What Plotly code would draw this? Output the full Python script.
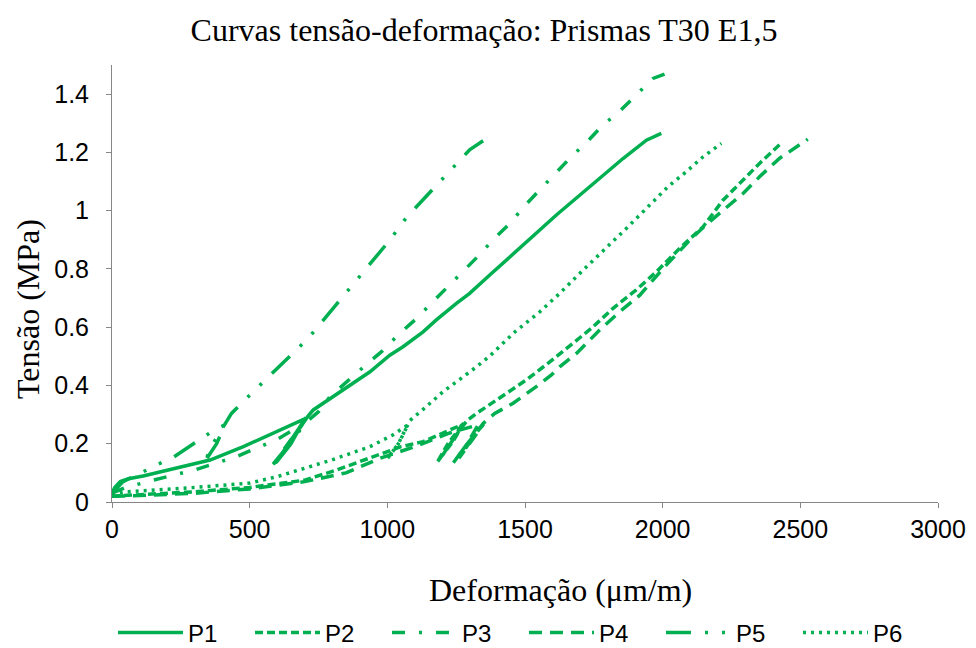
import plotly.graph_objects as go

GREEN = "#00B050"

# Deformação (µm/m) and Tensão (MPa)
p1_x = [0, 10, 30, 60, 113, 235, 356, 477, 560, 634, 700, 650, 600, 585, 620, 670, 705, 640, 595, 650, 700, 660, 610, 600, 680, 712, 731, 828, 937, 1009, 1057, 1130, 1178, 1251, 1299, 1372, 1439, 1493, 1614, 1735, 1856, 1941, 1995]
p1_y = [0.03, 0.05, 0.07, 0.08, 0.089, 0.116, 0.144, 0.19, 0.225, 0.258, 0.285, 0.2, 0.14, 0.13, 0.17, 0.24, 0.29, 0.19, 0.135, 0.21, 0.28, 0.22, 0.15, 0.14, 0.25, 0.295, 0.316, 0.379, 0.447, 0.504, 0.533, 0.584, 0.625, 0.682, 0.716, 0.779, 0.836, 0.882, 0.985, 1.082, 1.179, 1.242, 1.265]

p2_x = [0, 100, 300, 500, 700, 816, 937, 1050, 1130, 1200, 1270, 1230, 1190, 1180, 1220, 1280, 1240, 1200, 1250, 1290, 1324, 1414, 1505, 1590, 1675, 1741, 1820, 1904, 1977, 2062, 2147, 2219, 2292, 2358, 2430]
p2_y = [0.02, 0.025, 0.035, 0.05, 0.075, 0.11, 0.15, 0.19, 0.207, 0.237, 0.265, 0.2, 0.15, 0.135, 0.2, 0.275, 0.21, 0.16, 0.23, 0.28, 0.304, 0.361, 0.419, 0.481, 0.545, 0.596, 0.665, 0.728, 0.79, 0.871, 0.945, 1.036, 1.105, 1.168, 1.231]

p3_x = [0, 50, 150, 300, 450, 600, 690, 640, 600, 590, 640, 700, 750, 791, 852, 918, 979, 1039, 1100, 1157, 1215, 1273, 1330, 1387, 1445, 1499, 1554, 1612, 1668, 1729, 1783, 1838, 1886, 1965, 2013]
p3_y = [0.03, 0.05, 0.075, 0.11, 0.155, 0.215, 0.265, 0.2, 0.15, 0.13, 0.19, 0.27, 0.31, 0.361, 0.413, 0.467, 0.516, 0.573, 0.625, 0.679, 0.733, 0.79, 0.844, 0.903, 0.956, 1.017, 1.071, 1.131, 1.185, 1.24, 1.294, 1.336, 1.38, 1.454, 1.471]

p4_x = [0, 100, 300, 500, 700, 850, 973, 1100, 1227, 1330, 1290, 1250, 1240, 1290, 1350, 1300, 1260, 1310, 1348, 1390, 1457, 1548, 1596, 1626, 1687, 1771, 1844, 1917, 2000, 2100, 2150, 2213, 2292, 2358, 2425, 2527]
p4_y = [0.02, 0.022, 0.03, 0.045, 0.07, 0.1, 0.15, 0.19, 0.237, 0.265, 0.2, 0.15, 0.135, 0.2, 0.268, 0.2, 0.15, 0.22, 0.27, 0.304, 0.339, 0.401, 0.436, 0.464, 0.51, 0.59, 0.653, 0.71, 0.8, 0.9, 0.945, 0.996, 1.059, 1.122, 1.18, 1.245]

p5_x = [0, 40, 114, 168, 217, 301, 360, 410, 380, 345, 335, 360, 400, 434, 507, 640, 713, 828, 894, 1009, 1070, 1190, 1251, 1300, 1348]
p5_y = [0.03, 0.07, 0.104, 0.13, 0.15, 0.204, 0.24, 0.265, 0.2, 0.15, 0.13, 0.19, 0.25, 0.304, 0.373, 0.493, 0.562, 0.693, 0.768, 0.899, 0.977, 1.10, 1.164, 1.21, 1.24]

p6_x = [0, 50, 300, 500, 600, 700, 797, 937, 1020, 1075, 1040, 1005, 1000, 1040, 1082, 1130, 1203, 1324, 1372, 1439, 1457, 1554, 1626, 1711, 1795, 1868, 1941, 2019, 2086, 2147, 2213]
p6_y = [0.025, 0.035, 0.05, 0.065, 0.087, 0.115, 0.144, 0.19, 0.23, 0.265, 0.2, 0.155, 0.15, 0.2, 0.28, 0.318, 0.379, 0.464, 0.501, 0.562, 0.579, 0.653, 0.716, 0.796, 0.871, 0.939, 1.008, 1.082, 1.134, 1.185, 1.231]

series = [
    ("P1", p1_x, p1_y, "solid"),
    ("P2", p2_x, p2_y, "8px,4px"),
    ("P3", p3_x, p3_y, "13px,14px,3px,14px"),
    ("P4", p4_x, p4_y, "13px,8px"),
    ("P5", p5_x, p5_y, "25px,14px,3px,14px,3px,14px"),
    ("P6", p6_x, p6_y, "3px,5px"),
]

fig = go.Figure()
for name, xs, ys, dash in series:
    fig.add_trace(go.Scatter(
        x=xs, y=ys, name=name, mode="lines",
        line=dict(color=GREEN, width=3.5, dash=dash),
    ))

SERIF = "Liberation Serif, Times New Roman"
SANS = "Liberation Sans, Arial"

axis_common = dict(
    showgrid=False, zeroline=False, showline=True, automargin=False,
    linecolor="#868686", linewidth=1,
    ticks="outside", ticklen=5, tickcolor="#868686",
    tickfont=dict(family=SANS, size=25, color="black"),
)

fig.update_layout(
    width=976, height=648,
    paper_bgcolor="white", plot_bgcolor="white",
    margin=dict(l=112, r=38, t=65, b=146),
    title=dict(
        text="Curvas tensão-deformação: Prismas T30 E1,5",
        font=dict(family=SERIF, size=32, color="black"),
        x=484 / 976, xanchor="center", xref="container",
        y=1 - 30 / 648, yanchor="middle", yref="container",
    ),
    xaxis=dict(range=[0, 3000], dtick=500, tick0=0, **axis_common),
    yaxis=dict(range=[0, 1.5], dtick=0.2, tick0=0, ticklabelstandoff=12, **axis_common),
    legend=dict(
        orientation="h", x=113 / 976, xanchor="left", xref="container",
        y=1 - 633 / 648, yanchor="middle", yref="container",
        font=dict(family=SANS, size=24, color="black"),
        itemwidth=65, tracegroupgap=0,
        entrywidth=57, entrywidthmode="pixels",
    ),
    showlegend=True,
    annotations=[
        dict(text="Deformação (μm/m)", xref="paper", yref="paper",
             x=(560 - 112) / 826, y=-(590 - 502) / 437,
             xanchor="center", yanchor="middle", showarrow=False,
             font=dict(family=SERIF, size=32, color="black")),
        dict(text="Tensão (MPa)", xref="paper", yref="paper",
             x=-(112 - 28) / 826, y=(502 - 309) / 437, textangle=-90,
             xanchor="center", yanchor="middle", showarrow=False,
             font=dict(family=SERIF, size=32, color="black")),
    ],
)

fig.write_html("out.html")
